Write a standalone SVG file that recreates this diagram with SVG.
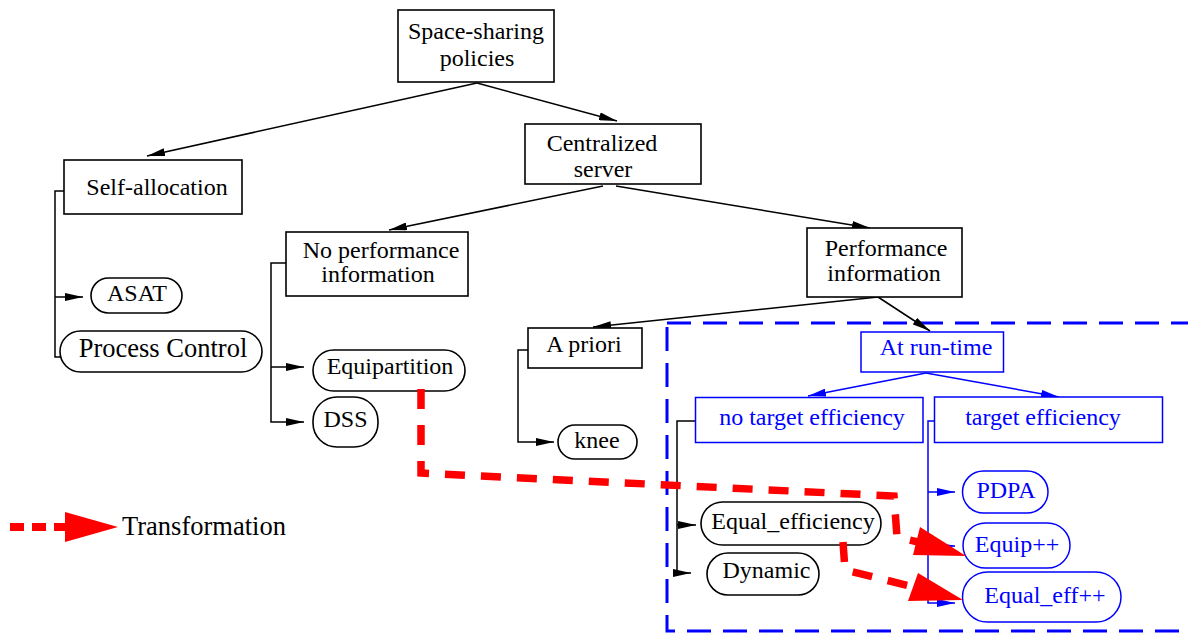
<svg xmlns="http://www.w3.org/2000/svg" width="1188" height="633" viewBox="0 0 1188 633">
<style>
  .box { fill: #ffffff; stroke: #000000; stroke-width: 1.6; }
  .bbox { fill: #ffffff; stroke: #0000ff; stroke-width: 1.5; }
  text { font-family: 'Liberation Serif', 'Times New Roman', Times, serif; }
  .t { font-size: 24px; fill: #000000; text-anchor: middle; }
  .bt { font-size: 24px; fill: #0000ff; text-anchor: middle; }
  .big { font-size: 26.5px; }
  .ln { fill: none; stroke: #000000; stroke-width: 1.5; }
  .bln { fill: none; stroke: #0000ff; stroke-width: 1.5; }
  .red { fill: none; stroke: #ff0000; stroke-width: 7.5; stroke-dasharray: 20 16; }
  .redhead { fill: #ff0000; stroke: none; }
</style>
<defs>
  <marker id="ah" markerUnits="userSpaceOnUse" markerWidth="18" markerHeight="8" viewBox="0 0 18 8" refX="18" refY="4" orient="auto">
    <path d="M0,0 L18,4 L0,8 Z" fill="#000000"/>
  </marker>
  <marker id="bah" markerUnits="userSpaceOnUse" markerWidth="18" markerHeight="8" viewBox="0 0 18 8" refX="18" refY="4" orient="auto">
    <path d="M0,0 L18,4 L0,8 Z" fill="#0000ff"/>
  </marker>
</defs>
<rect width="1188" height="633" fill="#ffffff"/>

<g id="runtime-region">
  <rect x="667" y="323" width="570" height="308" fill="none" stroke="#0000ff" stroke-width="3" stroke-dasharray="24 12"/>
</g>

<g id="connectors">
  <path class="ln" d="M477,83 L147,156" marker-end="url(#ah)"/>
  <path class="ln" d="M477,83 L617,121" marker-end="url(#ah)"/>
  <path class="ln" d="M603,186 L389,230" marker-end="url(#ah)"/>
  <path class="ln" d="M616,186 L870,228" marker-end="url(#ah)"/>
  <path class="ln" d="M878,297 L593,327" marker-end="url(#ah)"/>
  <path class="ln" d="M878,297 L930,331" marker-end="url(#ah)"/>
  <path class="ln" d="M64,191 H55 V357 H62"/>
  <path class="ln" d="M55,297 H83" marker-end="url(#ah)"/>
  <path class="ln" d="M286,263 H271 V422 H304" marker-end="url(#ah)"/>
  <path class="ln" d="M271,367 H304" marker-end="url(#ah)"/>
  <path class="ln" d="M528,350 H518 V442 H554" marker-end="url(#ah)"/>
  <path class="ln" d="M695,421 H677 V573 H691" marker-end="url(#ah)"/>
  <path class="ln" d="M677,525 H696" marker-end="url(#ah)"/>
  <path class="bln" d="M926,373 L808,396" marker-end="url(#bah)"/>
  <path class="bln" d="M926,373 L1059,397" marker-end="url(#bah)"/>
  <path class="bln" d="M934,421 H928 V603 H955" marker-end="url(#bah)"/>
  <path class="bln" d="M928,492 H955" marker-end="url(#bah)"/>
  <path class="bln" d="M928,546 H955" marker-end="url(#bah)"/>
</g>

<g id="space-sharing">
  <rect class="box" x="398" y="10" width="156" height="72"/>
  <text class="t" x="476" y="39">Space-sharing</text>
  <text class="t" x="477" y="66">policies</text>
</g>
<g id="centralized">
  <rect class="box" x="525" y="124" width="176" height="60"/>
  <text class="t" x="602" y="151">Centralized</text>
  <text class="t" x="603" y="177">server</text>
</g>
<g id="self-allocation">
  <rect class="box" x="64" y="160" width="178" height="54"/>
  <text class="t" x="157" y="195">Self-allocation</text>
</g>
<g id="no-performance">
  <rect class="box" x="286" y="232" width="182" height="64"/>
  <text class="t" x="381" y="258">No performance</text>
  <text class="t" x="378" y="282">information</text>
</g>
<g id="performance">
  <rect class="box" x="807" y="228" width="155" height="69"/>
  <text class="t" x="886" y="256">Performance</text>
  <text class="t" x="884" y="281">information</text>
</g>
<g id="a-priori">
  <rect class="box" x="528" y="328" width="114" height="40"/>
  <text class="t" x="584" y="352">A priori</text>
</g>
<g id="knee">
  <rect class="box" x="558" y="425" width="79" height="34" rx="17"/>
  <text class="t" x="597" y="448">knee</text>
</g>
<g id="asat">
  <rect class="box" x="91" y="278" width="91" height="35" rx="17.5"/>
  <text class="t" x="137" y="301">ASAT</text>
</g>
<g id="process-control">
  <rect class="box" x="60" y="331" width="202" height="41" rx="20.5"/>
  <text class="t big" x="163" y="357">Process Control</text>
</g>
<g id="equipartition">
  <rect class="box" x="313" y="350" width="152" height="41" rx="20.5"/>
  <text class="t" x="390" y="374">Equipartition</text>
</g>
<g id="dss">
  <rect class="box" x="313" y="397" width="65" height="50" rx="24"/>
  <text class="t" x="345.5" y="427">DSS</text>
</g>
<g id="equal-efficiency">
  <rect class="box" x="701" y="502" width="180" height="43" rx="21.5"/>
  <text class="t" x="793" y="529">Equal_efficiency</text>
</g>
<g id="dynamic">
  <rect class="box" x="707" y="553" width="112" height="42" rx="21"/>
  <text class="t" x="766.5" y="578">Dynamic</text>
</g>
<g id="at-run-time">
  <rect class="bbox" x="861" y="332" width="142.5" height="40"/>
  <text class="bt" x="936" y="355">At run-time</text>
</g>
<g id="no-target-efficiency">
  <rect class="bbox" x="695.5" y="397.5" width="227.5" height="45"/>
  <text class="bt" x="812" y="425">no target efficiency</text>
</g>
<g id="target-efficiency">
  <rect class="bbox" x="934.5" y="397" width="228" height="45.5"/>
  <text class="bt" x="1043" y="425">target efficiency</text>
</g>
<g id="pdpa">
  <rect class="bbox" x="962.5" y="471" width="85.5" height="42" rx="21"/>
  <text class="bt" x="1006" y="498">PDPA</text>
</g>
<g id="equip-pp">
  <rect class="bbox" x="963" y="523" width="107" height="45" rx="22.5"/>
  <text class="bt" x="1017" y="552">Equip++</text>
</g>
<g id="equal-eff-pp">
  <rect class="bbox" x="962.5" y="572" width="158.5" height="50" rx="25"/>
  <text class="bt" x="1045" y="603">Equal_eff++</text>
</g>

<g id="transformations">
  <path class="red" d="M421,389 L421,473 L894,496 L897,537 L918,542"/>
  <polygon class="redhead" points="920,527 913,555 966,556"/>
  <path class="red" d="M843,542 L845,570 L914,587"/>
  <polygon class="redhead" points="918,573 908,601 963,600"/>
</g>

<g id="legend">
  <path d="M10,527 H66" fill="none" stroke="#ff0000" stroke-width="8" stroke-dasharray="14 8"/>
  <polygon class="redhead" points="65,512 65,542 118,527"/>
  <text class="t big" x="122" y="535" style="text-anchor:start">Transformation</text>
</g>
</svg>
